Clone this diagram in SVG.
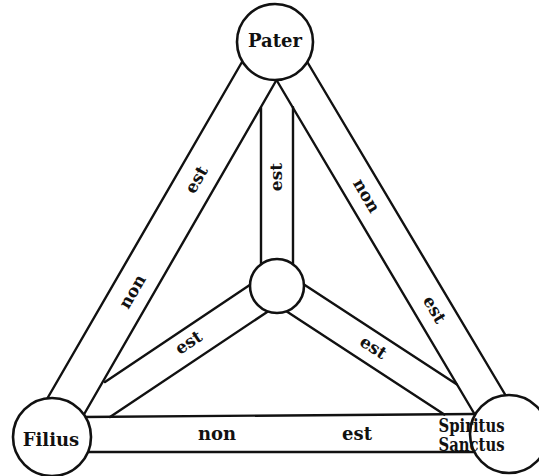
<svg xmlns="http://www.w3.org/2000/svg" width="539" height="476" viewBox="0 0 539 476">
<style>
.ln{stroke:#111;stroke-width:2.4;fill:none;stroke-linecap:round}
.nd{stroke:#111;stroke-width:2.6;fill:#fff}
.lab{font-family:"DejaVu Serif","Liberation Serif",serif;font-weight:bold;font-size:17px;fill:#111;text-anchor:middle}
.name{font-family:"DejaVu Serif","Liberation Serif",serif;font-weight:bold;font-size:18px;fill:#111;text-anchor:middle}
</style>
<rect width="539" height="476" fill="#fff"/>
<g id="connectors">
  <!-- Pater - Filius band -->
  <line class="ln" x1="242" y1="62" x2="47" y2="399"/>
  <line class="ln" x1="276.5" y1="80" x2="82.5" y2="417"/>
  <!-- Pater - Spiritus band -->
  <line class="ln" x1="307" y1="61.5" x2="506" y2="396"/>
  <line class="ln" x1="276.5" y1="80" x2="474.5" y2="414"/>
  <!-- Filius - Spiritus band -->
  <line class="ln" x1="82.5" y1="417" x2="474.5" y2="414"/>
  <line class="ln" x1="88" y1="452" x2="474.5" y2="452"/>
  <!-- Pater - centre -->
  <line class="ln" x1="261" y1="107.7" x2="261" y2="264.3"/>
  <line class="ln" x1="293" y1="107.1" x2="293" y2="264.3"/>
  <!-- Filius - centre -->
  <line class="ln" x1="250.1" y1="284.8" x2="105" y2="382"/>
  <line class="ln" x1="267.9" y1="311.4" x2="110" y2="417"/>
  <!-- Spiritus - centre -->
  <line class="ln" x1="304" y1="284.5" x2="456.6" y2="384.2"/>
  <line class="ln" x1="286.4" y1="311.3" x2="444.3" y2="414.5"/>
  <!-- labels -->
  <g class="lab">
    <text transform="translate(197,180) rotate(-60)" y="5">est</text>
    <text transform="translate(133,292) rotate(-60)" y="5">non</text>
    <text transform="translate(366,196) rotate(59.5)" y="5">non</text>
    <text transform="translate(434,310) rotate(59.5)" y="5">est</text>
    <text transform="translate(277,177) rotate(-90)" y="5">est</text>
    <text transform="translate(189,343) rotate(-33.8)" y="5">est</text>
    <text transform="translate(373,348) rotate(33.2)" y="5">est</text>
    <text x="217" y="440" font-size="18">non</text>
    <text x="357" y="440" font-size="18">est</text>
  </g>
</g>
<g id="pater">
  <circle class="nd" cx="275" cy="42" r="38"/>
  <text class="name" x="275" y="47">Pater</text>
</g>
<g id="filius">
  <circle class="nd" cx="52" cy="437" r="39"/>
  <text class="name" x="51" y="446">Filius</text>
</g>
<g id="spiritus-sanctus">
  <circle class="nd" cx="509" cy="434" r="39"/>
  <text class="name" x="471.5" y="432" font-size="14.5" text-anchor="start" textLength="66" lengthAdjust="spacingAndGlyphs">Spiritus</text>
  <text class="name" x="471.5" y="451" font-size="14.5" text-anchor="start" textLength="66" lengthAdjust="spacingAndGlyphs">Sanctus</text>
</g>
<g id="deus">
  <circle class="nd" cx="277" cy="286" r="27"/>
</g>
</svg>
